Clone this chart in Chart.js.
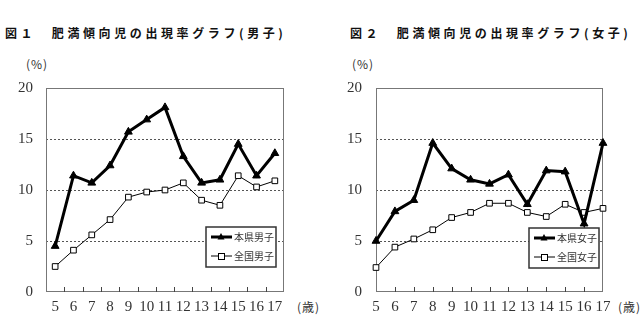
<!DOCTYPE html>
<html>
<head>
<meta charset="utf-8">
<script src="https://cdn.jsdelivr.net/npm/chart.js@4"></script>
<style>
  body { margin: 0; background: #fff; width: 640px; height: 323px; position: relative; overflow: hidden; }
  .box { position: absolute; top: 0; width: 320px; height: 323px; }
  .title { position: absolute; top: 25px; font: bold 12px "Noto Sans CJK JP", sans-serif; letter-spacing: 3.6px; line-height: 16px; color: #111; white-space: nowrap; }
  .unit { position: absolute; font: 12px "Noto Sans CJK JP", serif; color: #333; white-space: nowrap; line-height: 14px; letter-spacing: 1px; }
</style>
</head>
<body>
<div class="title" style="left:5px">図１　肥満傾向児の出現率グラフ(男子)</div>
<div class="title" style="left:350px">図２　肥満傾向児の出現率グラフ(女子)</div>
<div class="unit" style="left:26px; top:57px">(%)</div>
<div class="unit" style="left:352px; top:57px">(%)</div>
<div class="unit" style="left:297px; top:300px">(歳)</div>
<div class="unit" style="left:618px; top:300px">(歳)</div>
<div class="box" style="left:0"><canvas id="boys"></canvas></div>
<div class="box" style="left:320px"><canvas id="girls"></canvas></div>
<script>
const ages = ['5', '6', '7', '8', '9', '10', '11', '12', '13', '14', '15', '16', '17'];
const yTicks = [0, 5, 10, 15, 20];

const prefBoys = [4.5, 11.4, 10.7, 12.4, 15.7, 16.9, 18.1, 13.3, 10.7, 11.0, 14.5, 11.4, 13.6];
const natBoys = [2.5, 4.1, 5.6, 7.1, 9.3, 9.8, 10.0, 10.7, 9.0, 8.5, 11.4, 10.3, 10.9];
const prefGirls = [5.0, 7.9, 9.0, 14.6, 12.1, 11.0, 10.6, 11.5, 8.6, 11.9, 11.8, 6.7, 14.6];
const natGirls = [2.4, 4.4, 5.2, 6.1, 7.3, 7.8, 8.7, 8.7, 7.8, 7.4, 8.6, 7.8, 8.2];

const tickFont = { family: 'Liberation Serif', size: 15 };

// frame, inward x ticks and the boxed legend
const framePlugin = {
    id: 'frame',
    beforeDatasetsDraw(chart, args, opts) {
        const { ctx, chartArea: a, scales: { x } } = chart;
        ctx.save();
        ctx.strokeStyle = '#777';
        ctx.lineWidth = 1;
        ctx.strokeRect(a.left + 0.5, a.top + 0.5, a.right - a.left - 1, a.bottom - a.top - 1);
        ctx.strokeStyle = '#444';
        const step = x.getPixelForValue(1) - x.getPixelForValue(0);
        const shift = opts.between ? step / 2 : 0;
        for (let i = 0; i < ages.length; i++) {
            const px = Math.round(x.getPixelForValue(i) + shift) + 0.5;
            if (px <= a.left + 1 || px >= a.right - 1) continue;
            ctx.beginPath();
            ctx.moveTo(px, a.bottom);
            ctx.lineTo(px, a.bottom - 5);
            ctx.stroke();
        }
        ctx.restore();
    },
    afterDatasetsDraw(chart, args, opts) {
        const { ctx, chartArea: a } = chart;
        const w = 70, h = 40;
        const bx = a.right - opts.right - w, by = a.bottom - opts.bottom - h;
        ctx.save();
        ctx.fillStyle = '#fff';
        ctx.fillRect(bx, by, w, h);
        ctx.strokeStyle = '#333';
        ctx.lineWidth = 1.5;
        ctx.strokeRect(bx, by, w, h);
        chart.data.datasets.forEach((ds, i) => {
            const y = by + 10 + i * 19;
            const cx = bx + 15;
            ctx.strokeStyle = '#000';
            ctx.lineWidth = ds.borderWidth;
            ctx.beginPath();
            ctx.moveTo(bx + 5, y);
            ctx.lineTo(bx + 26, y);
            ctx.stroke();
            ctx.lineWidth = 1;
            if (ds.pointStyle === 'triangle') {
                ctx.fillStyle = '#000';
                ctx.beginPath();
                ctx.moveTo(cx, y - 4);
                ctx.lineTo(cx + 3.5, y + 2.5);
                ctx.lineTo(cx - 3.5, y + 2.5);
                ctx.closePath();
                ctx.fill();
            } else {
                ctx.fillStyle = '#fff';
                ctx.fillRect(cx - 3, y - 3, 6, 6);
                ctx.strokeRect(cx - 3 + 0.5, y - 3 + 0.5, 6, 6);
            }
            ctx.fillStyle = '#333';
            ctx.font = '10px "Noto Sans CJK JP"';
            ctx.textBaseline = 'middle';
            ctx.fillText(ds.label, bx + 28, y);
        });
        ctx.restore();
    }
};

function makeChart(id, labels, pref, nat, axisLeft, plotWidth, offset, legendPos) {
    return new Chart(document.getElementById(id), {
        type: 'line',
        data: {
            labels: ages,
            datasets: [
                {
                    label: labels[0],
                    data: pref,
                    borderColor: '#000',
                    backgroundColor: '#000',
                    borderWidth: 3,
                    pointStyle: 'triangle',
                    pointRadius: 4.5,
                    pointBorderWidth: 1,
                    tension: 0
                },
                {
                    label: labels[1],
                    data: nat,
                    borderColor: '#000',
                    backgroundColor: '#fff',
                    borderWidth: 1,
                    pointStyle: 'rect',
                    pointRadius: 4,
                    pointBorderWidth: 1,
                    tension: 0
                }
            ]
        },
        options: {
            responsive: false,
            animation: false,
            devicePixelRatio: 1,
            layout: { padding: { top: 88, right: 320 - axisLeft - plotWidth, left: 0, bottom: 0 } },
            plugins: {
                legend: { display: false },
                tooltip: { enabled: false },
                frame: { between: offset, right: legendPos[0], bottom: legendPos[1] }
            },
            scales: {
                x: {
                    offset: offset,
                    grid: { display: false },
                    border: { display: false },
                    ticks: { font: tickFont, color: '#333', padding: -2, autoSkip: false, maxRotation: 0 },
                    afterFit(s) { s.height = 31; }
                },
                y: {
                    min: 0,
                    max: 20,
                    afterBuildTicks(s) { s.ticks = yTicks.map(v => ({ value: v })); },
                    grid: {
                        drawTicks: false,
                        color: c => (c.tick.value === 0 || c.tick.value === 20) ? 'rgba(0,0,0,0)' : '#555'
                    },
                    border: { display: false, dash: [2, 2] },
                    ticks: { font: tickFont, color: '#333', padding: axisLeft === 46 ? 13 : 14 },
                    afterFit(s) { s.width = axisLeft; }
                }
            }
        },
        plugins: [framePlugin]
    });
}

['boys', 'girls'].forEach(id => {
    document.getElementById(id).width = 320;
    document.getElementById(id).height = 323;
});

makeChart('boys', ['本県男子', '全国男子'], prefBoys, natBoys, 46, 238, true, [8, 25]);
makeChart('girls', ['本県女子', '全国女子'], prefGirls, natGirls, 56, 227, false, [4, 24]);
</script>
</body>
</html>
